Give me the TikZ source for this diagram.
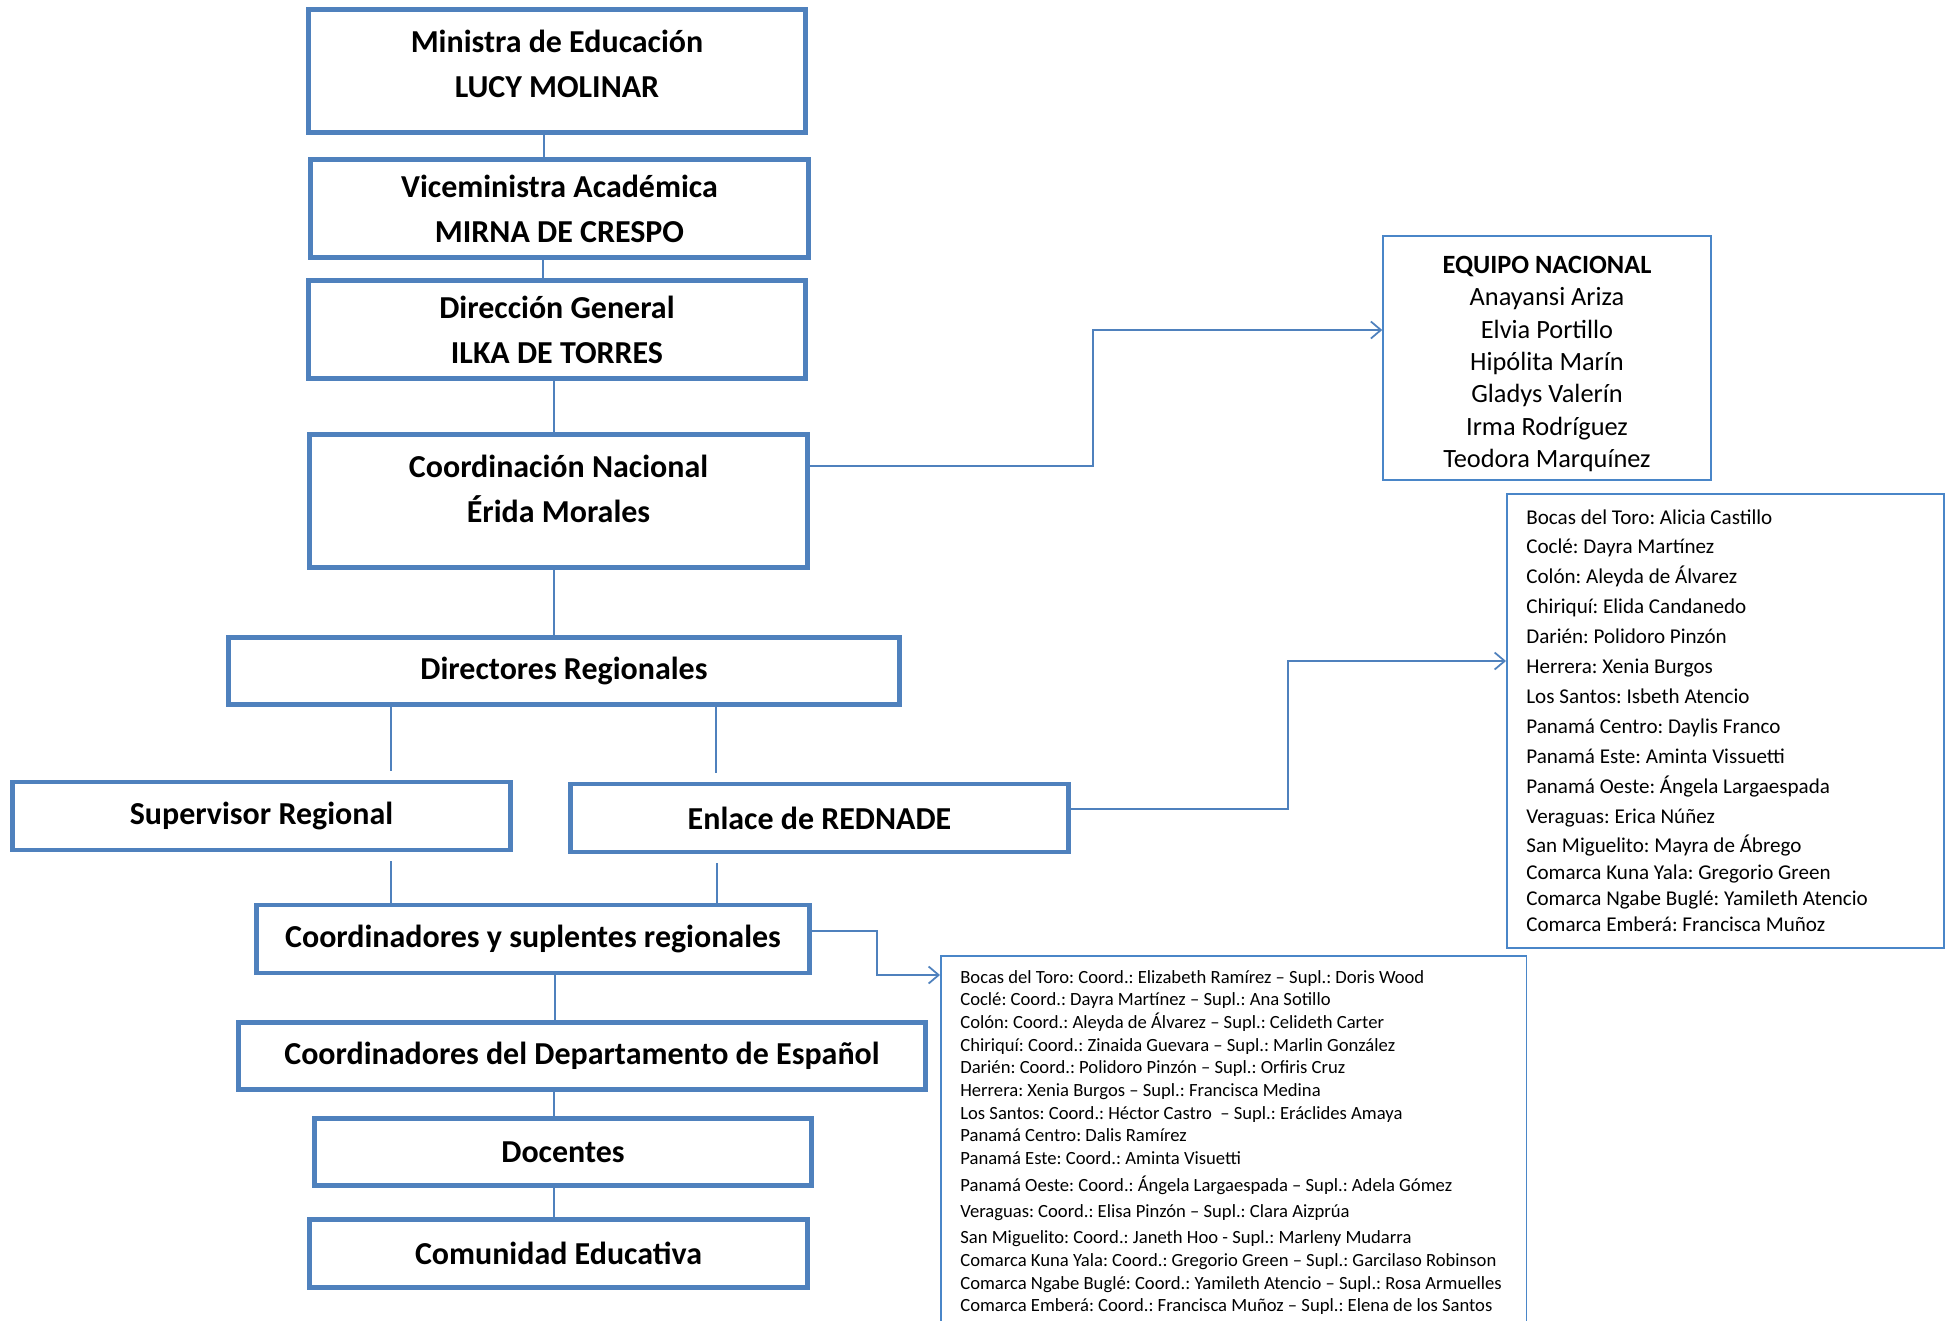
\documentclass[tikz,border=0pt]{standalone}
\usepackage{fontspec}
\setmainfont{Carlito}
\frenchspacing
\usetikzlibrary{arrows.meta}
\definecolor{mainblue}{HTML}{4F81BD}
\definecolor{listblue}{HTML}{4A86C8}
\tikzset{
  mainbox/.style={draw=mainblue, line width=2.8pt, fill=white, align=center, inner sep=0pt,
    font=\bfseries\fontsize{18.2}{25.5}\selectfont},
  listbox/.style={draw=listblue, line width=0.9pt, fill=white, inner sep=0pt},
  link/.style={draw=mainblue, line width=1pt},
  linkarrow/.style={link, -{Straight Barb[length=0.2cm, width=0.34cm]}},
}
\begin{document}
\begin{tikzpicture}[x=0.02cm, y=-0.02cm]
    \useasboundingbox (0,0) rectangle (1948,1320);
    % main chain
    \node[mainbox, minimum width=9.94cm, minimum height=2.46cm, text depth=0.3cm] (ministra) at (557,71) {Ministra de Educación\\LUCY MOLINAR};
    \node[mainbox, minimum width=9.96cm, minimum height=1.96cm] (vice) at (559.5,208.5) {Viceministra Académica\\MIRNA DE CRESPO};
    \node[mainbox, minimum width=9.94cm, minimum height=1.96cm] (direccion) at (557,329.5) {Dirección General\\ILKA DE TORRES};
    \node[mainbox, minimum width=9.96cm, minimum height=2.66cm, text depth=0.5cm] (coordnac) at (558.5,501) {Coordinación Nacional\\Érida Morales};
    \node[mainbox, minimum width=13.42cm, minimum height=1.34cm] (directores) at (564,671) {Directores Regionales};
    \node[mainbox, minimum width=9.96cm, minimum height=1.36cm] (supervisor) at (261.5,816) {Supervisor Regional};
    \node[mainbox, minimum width=9.96cm, minimum height=1.36cm] (enlace) at (819.5,818) {Enlace de REDNADE};
    \node[mainbox, minimum width=11.06cm, minimum height=1.36cm] (coordsup) at (533,939) {Coordinadores y suplentes regionales};
    \node[mainbox, minimum width=13.74cm, minimum height=1.34cm] (coorddep) at (582,1056) {Coordinadores del Departamento de Español};
    \node[mainbox, minimum width=9.94cm, minimum height=1.34cm] (docentes) at (563,1152) {Docentes};
    \node[mainbox, minimum width=9.96cm, minimum height=1.36cm] (comunidad) at (558.5,1253.5) {Comunidad Educativa};
    % lists
    \node[listbox, minimum width=6.56cm, minimum height=4.88cm] (equipo) at (1547,358) {};
    \node[align=center, inner sep=0pt, font=\fontsize{15}{18.4}\selectfont] (equipotext) at (1547,364)
      {\textbf{EQUIPO NACIONAL}\\Anayansi Ariza\\Elvia Portillo\\Hipólita Marín\\Gladys Valerín\\Irma Rodríguez\\Teodora Marquínez};
    \node[listbox, minimum width=8.74cm, minimum height=9.08cm, anchor=north west] (rednade) at (1506,493) {};
    \node[anchor=north west, inner sep=0pt, align=left, font=\fontsize{12}{17.05}\selectfont] (rednadetext) at (1526,509)
      {Bocas del Toro: Alicia Castillo\\
       Coclé: Dayra Martínez\\
       Colón: Aleyda de Álvarez\\
       Chiriquí: Elida Candanedo\\
       Darién: Polidoro Pinzón\\
       Herrera: Xenia Burgos\\
       Los Santos: Isbeth Atencio\\
       Panamá Centro: Daylis Franco\\
       Panamá Este: Aminta Vissuetti\\
       Panamá Oeste: Ángela Largaespada\\
       Veraguas: Erica Núñez\\[-0.8pt]
       San Miguelito: Mayra de Ábrego\\[-1.5pt]
       Comarca Kuna Yala: Gregorio Green\\[-2.3pt]
       Comarca Ngabe Buglé: Yamileth Atencio\\[-2.3pt]
       Comarca Emberá: Francisca Muñoz};
    \node[listbox, minimum width=11.72cm, minimum height=8cm, anchor=north west] (regionales) at (940,955) {};
    \node[anchor=north west, inner sep=0pt, align=left, font=\fontsize{10.6}{12.9}\selectfont] (regionalestext) at (960,970)
      {Bocas del Toro: Coord.: Elizabeth Ramírez – Supl.: Doris Wood\\
       Coclé: Coord.: Dayra Martínez – Supl.: Ana Sotillo\\
       Colón: Coord.: Aleyda de Álvarez – Supl.: Celideth Carter\\
       Chiriquí: Coord.: Zinaida Guevara – Supl.: Marlin González\\
       Darién: Coord.: Polidoro Pinzón – Supl.: Orfiris Cruz\\
       Herrera: Xenia Burgos – Supl.: Francisca Medina\\
       Los Santos: Coord.: Héctor Castro\ \ – Supl.: Eráclides Amaya\\
       Panamá Centro: Dalis Ramírez\\
       Panamá Este: Coord.: Aminta Visuetti\\[2.6pt]
       Panamá Oeste: Coord.: Ángela Largaespada – Supl.: Adela Gómez\\[1.9pt]
       Veraguas: Coord.: Elisa Pinzón – Supl.: Clara Aizprúa\\[1.9pt]
       San Miguelito: Coord.: Janeth Hoo - Supl.: Marleny Mudarra\\
       Comarca Kuna Yala: Coord.: Gregorio Green – Supl.: Garcilaso Robinson\\
       Comarca Ngabe Buglé: Coord.: Yamileth Atencio – Supl.: Rosa Armuelles\\
       Comarca Emberá: Coord.: Francisca Muñoz – Supl.: Elena de los Santos};
    % links
    \draw[link] (ministra.south -| 544,0) -- (vice.north -| 544,0);
    \draw[link] (vice.south -| 543,0) -- (direccion.north -| 543,0);
    \draw[link] (direccion.south -| 554,0) -- (coordnac.north -| 554,0);
    \draw[link] (coordnac.south -| 554,0) -- (directores.north -| 554,0);
    \draw[link, shorten >=0.18cm] (directores.south -| 391,0) -- (supervisor.north -| 391,0);
    \draw[link, shorten >=0.18cm] (directores.south -| 716,0) -- (enlace.north -| 716,0);
    \draw[link, shorten <=0.18cm] (supervisor.south -| 391,0) -- (coordsup.north -| 391,0);
    \draw[link, shorten <=0.18cm] (enlace.south -| 717,0) -- (coordsup.north -| 717,0);
    \draw[link] (coordsup.south -| 555,0) -- (coorddep.north -| 555,0);
    \draw[link] (coorddep.south -| 554,0) -- (docentes.north -| 554,0);
    \draw[link] (docentes.south -| 554,0) -- (comunidad.north -| 554,0);
    % arrows to the lists
    \draw[linkarrow] (coordnac.east |- 0,466) -| (1093,330) -- (equipo.west |- 0,330);
    \draw[linkarrow] (enlace.east |- 0,809) -| (1288,661) -- (rednade.west |- 0,661);
    \draw[linkarrow] (coordsup.east |- 0,931) -| (877,975) -- (regionales.west |- 0,975);
\end{tikzpicture}
\end{document}
